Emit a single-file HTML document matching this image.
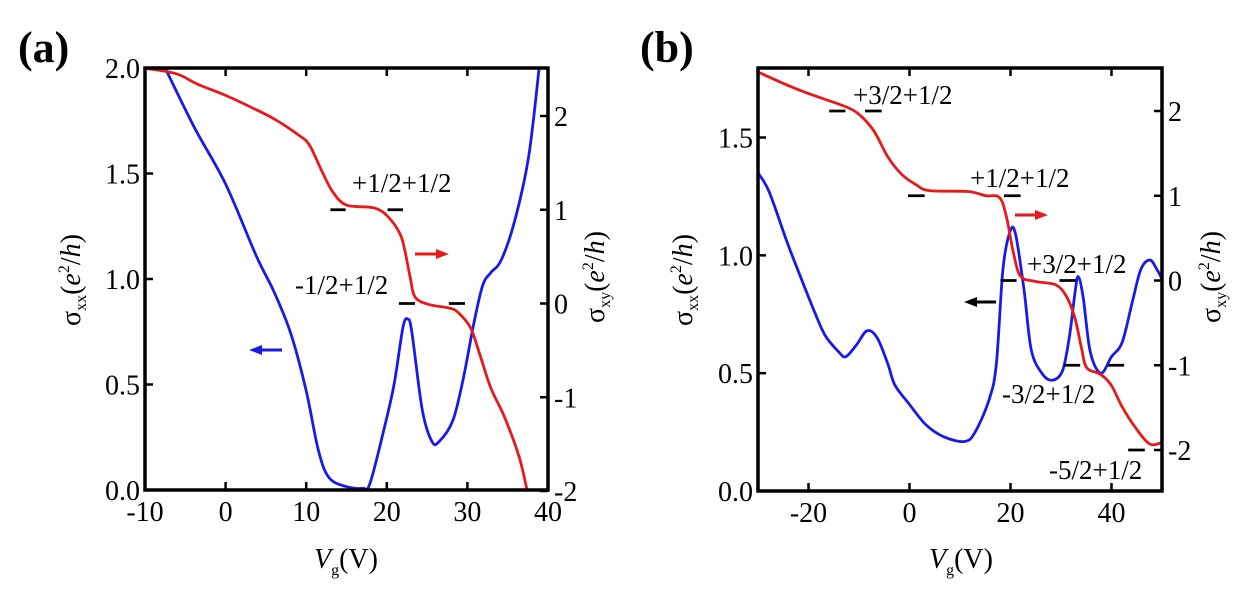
<!DOCTYPE html>
<html><head><meta charset="utf-8"><style>
html,body{margin:0;padding:0;background:#fff}
svg{display:block}
text,tspan{font-family:"Liberation Serif","DejaVu Serif",serif}
</style></head><body>
<svg id="fig" width="1244" height="591" viewBox="0 0 1244 591"></svg>
<script>
// ---- Panel (a) data ----
const aBlueV=[-7.5,-3.9,0,3.8,6,8.1,10,11.5,12.8,14.9,17,17.9,19.6,20.9,22,22.6,23.1,24.4,25.6,26.5,28.2,29.5,30.8,31.9,32.9,34.2,35.9,37.6,38.9];
const aBlueS=[2.0,1.72,1.45,1.11,0.94,0.74,0.47,0.19,0.06,0.017,0.008,0.03,0.28,0.5,0.77,0.81,0.75,0.38,0.23,0.23,0.33,0.53,0.79,0.97,1.03,1.09,1.28,1.58,2.0];
const aRedV=[-10,-6.1,-3.5,0,3,6,9,10.4,11.9,13.3,15,18.4,20.1,21.6,22.2,22.9,23.5,25.2,27.8,28.9,30.4,31.6,32.9,34.6,36.4,37.4];
const aRedS=[2.51,2.45,2.34,2.22,2.1,1.97,1.8,1.69,1.42,1.19,1.05,1.02,0.93,0.75,0.58,0.28,0.07,-0.01,-0.05,-0.1,-0.26,-0.56,-0.9,-1.21,-1.63,-1.99];
const aXTicks=[-10,0,10,20,30,40];
const aLTicks=[0,0.5,1.0,1.5,2.0];
const aRTicks=[-2,-1,0,1,2];
const aDashLevel=[1,1,0,0];
const aDashFrom=[13.0,20.1,21.5,27.7];
const aDashTo=[14.9,22.0,23.5,29.7];
// ---- Panel (b) data ----
const bBlueV=[-30,-27.8,-24.3,-21.6,-18.8,-16.7,-14,-12.6,-10.5,-8.4,-6.4,-4.3,-2.9,-0.1,3.3,6.8,10.9,13,15.8,17.2,18.5,19.9,21,22.7,24.1,26.2,28.2,30.3,31.7,32.7,33.4,34.4,35.8,37.9,40,42.1,44.1,45.8,47.6,49,50];
const bBlueS=[1.35,1.27,1.06,0.91,0.76,0.66,0.59,0.57,0.62,0.68,0.65,0.54,0.45,0.37,0.28,0.23,0.21,0.25,0.39,0.54,0.94,1.10,1.09,0.85,0.60,0.50,0.47,0.51,0.66,0.83,0.91,0.82,0.59,0.50,0.57,0.63,0.80,0.94,0.98,0.94,0.90];
const bRedV=[-30,-23.6,-18.8,-12.6,-9.8,-7,-4.3,-1.5,1.3,4,11.6,15.1,17.8,19.2,20.6,22,24.8,28.9,31,32.7,34.1,35.1,37.9,40,42.1,44.8,47.6,50];
const bRedS=[2.46,2.29,2.18,2.05,1.95,1.76,1.46,1.25,1.13,1.06,1.05,1.0,0.98,0.75,0.32,0.05,-0.01,-0.05,-0.18,-0.43,-0.81,-1.03,-1.11,-1.24,-1.49,-1.74,-1.93,-1.91];
const bXTicks=[-20,0,20,40];
const bLTicks=[0,0.5,1.0,1.5];
const bRTicks=[-2,-1,0,1,2];
const bDashLevel=[2,2,1,1,0,0,-1,-1,-2];
const bDashFrom=[-15.9,-8.8,-0.3,18.7,18,29.7,30.6,39.3,43.3];
const bDashTo=[-12.7,-5.5,3,22,21.2,32.9,33.8,42.5,46.6];

const NS="http://www.w3.org/2000/svg";
const svg=document.getElementById('fig');
function mk(tag,attrs,parent,text){const e=document.createElementNS(NS,tag);for(const k in attrs)e.setAttribute(k,attrs[k]);if(text!==undefined)e.textContent=text;(parent||svg).appendChild(e);return e;}
function lin(d0,d1,r0,r1){return v=>r0+(v-d0)/(d1-d0)*(r1-r0);}
function smooth(pts){let d=`M${pts[0][0]},${pts[0][1]}`;for(let i=0;i<pts.length-1;i++){const p0=pts[i-1]||pts[i],p1=pts[i],p2=pts[i+1],p3=pts[i+2]||p2;const c1=[p1[0]+(p2[0]-p0[0])/6,p1[1]+(p2[1]-p0[1])/6],c2=[p2[0]-(p3[0]-p1[0])/6,p2[1]-(p3[1]-p1[1])/6];d+=` C${c1[0]},${c1[1]} ${c2[0]},${c2[1]} ${p2[0]},${p2[1]}`;}return d;}

function panel(cfg){
  const g=mk('g',{});
  
  
  const {L,R,T,B}=cfg;
  const x=lin(cfg.xd[0],cfg.xd[1],L,R), yl=lin(cfg.ld[0],cfg.ld[1],B,T), yr=lin(cfg.rd[0],cfg.rd[1],cfg.rr[0],cfg.rr[1]);
  const clip=mk('clipPath',{id:'clip'+cfg.name},g);mk('rect',{x:L,y:T,width:R-L,height:B-T},clip);
  const pb=cfg.bV.map((v,i)=>[x(v),yl(cfg.bS[i])]);
  const bl=mk('path',{d:smooth(pb),fill:'none',stroke:'#1a1ae6','stroke-width':2.8,'clip-path':`url(#clip${cfg.name})`},g);
  
  
  const pr=cfg.rV.map((v,i)=>[x(v),yr(cfg.rS[i])]);
  const rl=mk('path',{d:smooth(pr),fill:'none',stroke:'#e61a1a','stroke-width':2.8,'clip-path':`url(#clip${cfg.name})`},g);
  
  
  cfg.dl.forEach((lv,i)=>{const d=mk('line',{x1:x(cfg.df[i]),x2:x(cfg.dt[i]),y1:yr(lv),y2:yr(lv),stroke:'#000','stroke-width':2.8},g);
    
    });
  const fr=mk('rect',{x:L,y:T,width:R-L,height:B-T,fill:'none',stroke:'#000','stroke-width':3.5},g);
  
  
  cfg.xt.forEach(v=>{const X=x(v);
    mk('line',{x1:X,x2:X,y1:B,y2:B-8,stroke:'#000','stroke-width':2.5},g);
    mk('line',{x1:X,x2:X,y1:T,y2:T+8,stroke:'#000','stroke-width':2.5},g);
    const t=mk('text',{x:X,y:B+31,'font-size':28,'text-anchor':'middle'},g,String(v));
    
    });
  cfg.lt.forEach(v=>{const Y=yl(v);
    mk('line',{x1:L,x2:L+8,y1:Y,y2:Y,stroke:'#000','stroke-width':2.5},g);
    const t=mk('text',{x:L-5,y:Y+10,'font-size':28,'text-anchor':'end'},g,v.toFixed(1));
    
    });
  cfg.rt.forEach(v=>{const Y=yr(v);
    mk('line',{x1:R,x2:R-8,y1:Y,y2:Y,stroke:'#000','stroke-width':2.5},g);
    const t=mk('text',{x:R+6,y:Y+10,'font-size':28,'text-anchor':'start'},g,String(v));
    
    });
  return g;
}
panel({name:'panel-a',L:145,R:548,T:68,B:490,xd:[-10,40],ld:[0,2],rd:[-2,2],rr:[491,116],
  bV:aBlueV,bS:aBlueS,rV:aRedV,rS:aRedS,xt:aXTicks,lt:aLTicks,rt:aRTicks,dl:aDashLevel,df:aDashFrom,dt:aDashTo});
panel({name:'panel-b',L:758,R:1162,T:68,B:491,xd:[-30,50],ld:[0,1.795],rd:[-2,2],rr:[450,111],
  bV:bBlueV,bS:bBlueS,rV:bRedV,rS:bRedS,xt:bXTicks,lt:bLTicks,rt:bRTicks,dl:bDashLevel,df:bDashFrom,dt:bDashTo});
</script>
<svg width="1244" height="591" style="position:absolute;left:0;top:0">
<text x="18" y="62" font-size="44" font-weight="bold">(a)</text>
<text x="640" y="62" font-size="44" font-weight="bold">(b)</text>
<g font-size="27">
<text x="352" y="192">+1/2+1/2</text>
<text x="295" y="294">-1/2+1/2</text>
<text x="853" y="104">+3/2+1/2</text>
<text x="970" y="187">+1/2+1/2</text>
<text x="1027" y="273">+3/2+1/2</text>
<text x="1002" y="403">-3/2+1/2</text>
<text x="1049" y="479">-5/2+1/2</text>
</g>
<g>
<line x1="282" y1="350" x2="256" y2="350" stroke="#1a1ae6" stroke-width="3"/><path d="M249,350 L262,345 L262,355z" fill="#1a1ae6"/>
<line x1="415" y1="254" x2="440" y2="254" stroke="#e61a1a" stroke-width="3"/><path d="M449,254 L436,249 L436,259z" fill="#e61a1a"/>
<line x1="1015" y1="215" x2="1038" y2="215" stroke="#e61a1a" stroke-width="3"/><path d="M1048,215 L1035,210 L1035,220z" fill="#e61a1a"/>
<line x1="996" y1="302" x2="973" y2="302" stroke="#000" stroke-width="3"/><path d="M964,302 L977,297 L977,307z" fill="#000"/>
</g>
<g font-size="28">
<text transform="translate(80,280) rotate(-90)" text-anchor="middle">σ<tspan font-size="16" dy="6">xx</tspan><tspan dy="-6">(</tspan><tspan font-style="italic">e</tspan><tspan font-size="16" dy="-11">2</tspan><tspan dy="11">/</tspan><tspan font-style="italic">h</tspan>)</text>
<text transform="translate(604,277) rotate(-90)" text-anchor="middle">σ<tspan font-size="16" dy="6">xy</tspan><tspan dy="-6">(</tspan><tspan font-style="italic">e</tspan><tspan font-size="16" dy="-11">2</tspan><tspan dy="11">/</tspan><tspan font-style="italic">h</tspan>)</text>
<text x="346" y="568" text-anchor="middle"><tspan font-style="italic">V</tspan><tspan font-size="16" dy="7">g</tspan><tspan dy="-7">(V)</tspan></text>
<text transform="translate(692,280) rotate(-90)" text-anchor="middle">σ<tspan font-size="16" dy="6">xx</tspan><tspan dy="-6">(</tspan><tspan font-style="italic">e</tspan><tspan font-size="16" dy="-11">2</tspan><tspan dy="11">/</tspan><tspan font-style="italic">h</tspan>)</text>
<text transform="translate(1220,277) rotate(-90)" text-anchor="middle">σ<tspan font-size="16" dy="6">xy</tspan><tspan dy="-6">(</tspan><tspan font-style="italic">e</tspan><tspan font-size="16" dy="-11">2</tspan><tspan dy="11">/</tspan><tspan font-style="italic">h</tspan>)</text>
<text x="961" y="568" text-anchor="middle"><tspan font-style="italic">V</tspan><tspan font-size="16" dy="7">g</tspan><tspan dy="-7">(V)</tspan></text>
</g>
</svg>
</body></html>
